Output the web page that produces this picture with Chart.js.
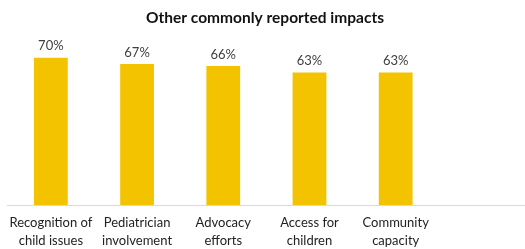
<!DOCTYPE html>
<html>
<head>
<meta charset="utf-8">
<script src="https://cdn.jsdelivr.net/npm/chart.js@4"></script>
<style>
  html, body { margin: 0; padding: 0; background: #fff; }
  #wrap { width: 525px; height: 249px; }
</style>
</head>
<body>
<div id="wrap"><canvas id="chart"></canvas></div>
<script>
// Data
const categories = [
    ['Recognition of', 'child issues'],
    ['Pediatrician', 'involvement'],
    ['Advocacy', 'efforts'],
    ['Access for', 'children'],
    ['Community', 'capacity'],
    ''
];
const impactPct = [70, 67, 66, 63, 63, null];
const yMax = 80;

// Draw the value labels on top of each bar
const barLabels = {
    id: 'barLabels',
    afterDatasetsDraw(chart) {
        const ctx = chart.ctx;
        const meta = chart.getDatasetMeta(0);
        ctx.save();
        ctx.font = '13px Lato';
        ctx.fillStyle = '#404040';
        ctx.textAlign = 'center';
        ctx.textBaseline = 'bottom';
        meta.data.forEach((bar, i) => {
            const v = impactPct[i];
            if (v == null) return;
            ctx.fillText(v + '%', bar.x, bar.y - 5);
        });
        ctx.restore();
    }
};

new Chart(document.getElementById('chart'), {
    type: 'bar',
    data: {
        labels: categories,
        datasets: [{
            data: impactPct,
            backgroundColor: '#F4C300',
            borderWidth: 0,
            barPercentage: 0.8,
            categoryPercentage: 0.49
        }]
    },
    options: {
        responsive: true,
        maintainAspectRatio: false,
        animation: false,
        layout: { padding: { left: 5, right: 0, top: 0, bottom: 0 } },
        plugins: {
            legend: { display: false },
            tooltip: { enabled: false },
            title: {
                display: true,
                text: 'Other commonly reported impacts',
                color: '#111',
                font: { family: 'Lato', size: 15.5, weight: 'bold', lineHeight: 1.2 },
                padding: { top: 9, bottom: 9 }
            }
        },
        scales: {
            x: {
                grid: { display: false, drawTicks: false },
                border: { display: true, color: '#d9d9d9', width: 1 },
                ticks: {
                    color: '#222',
                    padding: 9,
                    maxRotation: 0,
                    autoSkip: false,
                    font: { family: 'Lato', size: 13, lineHeight: 1.4 }
                },
                afterFit(scale) {
                    scale.height = 44;
                }
            },
            y: {
                display: false,
                min: 0,
                max: yMax
            }
        }
    },
    plugins: [barLabels]
});
</script>
</body>
</html>
